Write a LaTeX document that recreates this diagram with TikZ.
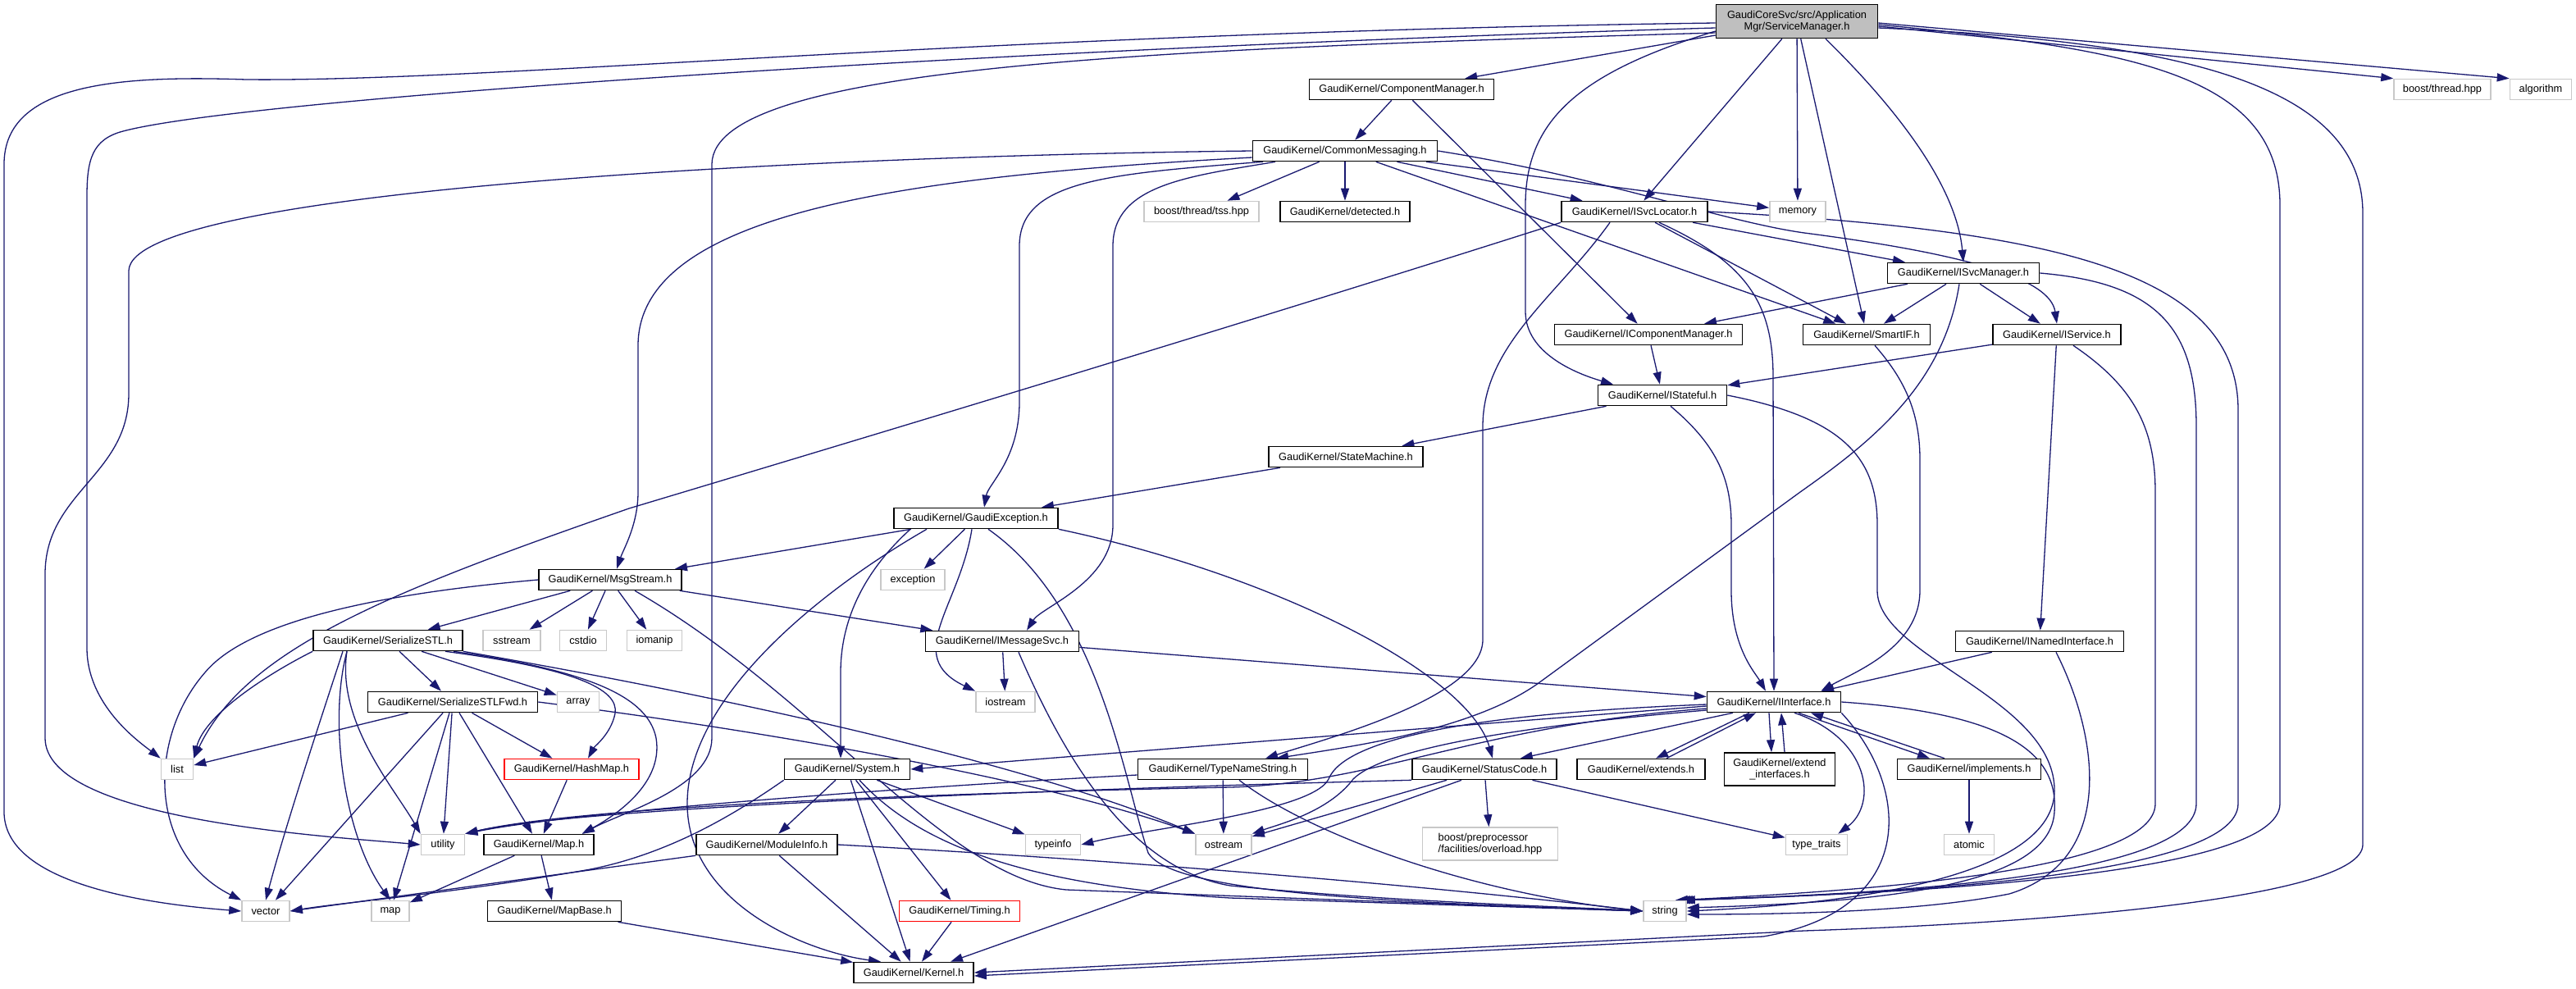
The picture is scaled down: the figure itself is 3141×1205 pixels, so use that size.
\documentclass[tikz,border=0pt]{standalone}
\usepackage{fontspec}
\setmainfont{Liberation Sans}
\usetikzlibrary{arrows.meta}
\definecolor{eb}{HTML}{191970}
\definecolor{gfill}{HTML}{BFBFBF}
\definecolor{gline}{HTML}{C8C8C8}
\pgfdeclarelayer{bg}
\pgfsetlayers{bg,main}
\tikzset{
  nd/.style={draw=black, line width=1.6pt, fill=white, inner sep=1pt, minimum height=25pt, align=center,
    font=\fontsize{12.8}{14.5}\selectfont},
  gn/.style={nd, draw=gline},
  rn/.style={nd, draw=red},
  e/.style={draw=eb, line width=1.3pt, -{Triangle[length=15pt,width=10pt]}},
}
\begin{document}
\begin{tikzpicture}[x=1pt,y=-1pt]
\useasboundingbox (0,0) rectangle (3141,1205);
% nodes
\node[nd, fill=gfill, minimum width=197pt, minimum height=41pt] (SM) at (2191,26) {GaudiCoreSvc/src/Application\\Mgr/ServiceManager.h};
\node[nd, minimum width=225pt] (CM) at (1709,109) {GaudiKernel/ComponentManager.h};
\node[gn, minimum width=118pt] (bth) at (2978,109) {boost/thread.hpp};
\node[gn, minimum width=75pt] (alg) at (3098,109) {algorithm};
\node[nd, minimum width=225pt] (CMsg) at (1640,184) {GaudiKernel/CommonMessaging.h};
\node[gn, minimum width=140pt] (tss) at (1465,258) {boost/thread/tss.hpp};
\node[nd, minimum width=158pt] (det) at (1640,258) {GaudiKernel/detected.h};
\node[nd, minimum width=178pt] (ISL) at (1993,258) {GaudiKernel/ISvcLocator.h};
\node[gn, minimum width=68pt] (mem) at (2192,258) {memory};
\node[nd, minimum width=185pt] (ISM) at (2394,333) {GaudiKernel/ISvcManager.h};
\node[nd, minimum width=229pt] (ICM) at (2010,408) {GaudiKernel/IComponentManager.h};
\node[nd, minimum width=155pt] (SIF) at (2276,408) {GaudiKernel/SmartIF.h};
\node[nd, minimum width=156pt] (ISvc) at (2508,408) {GaudiKernel/IService.h};
\node[nd, minimum width=157pt] (IST) at (2027,482) {GaudiKernel/IStateful.h};
\node[nd, minimum width=188pt] (STM) at (1641,557) {GaudiKernel/StateMachine.h};
\node[nd, minimum width=200pt] (GEx) at (1190,632) {GaudiKernel/GaudiException.h};
\node[gn, minimum width=78pt] (exc) at (1113,707) {exception};
\node[nd, minimum width=174pt] (MS) at (744,707) {GaudiKernel/MsgStream.h};
\node[nd, minimum width=187pt] (IMS) at (1222,782) {GaudiKernel/IMessageSvc.h};
\node[nd, minimum width=182pt] (SSTL) at (473,781) {GaudiKernel/SerializeSTL.h};
\node[gn, minimum width=70pt] (sstr) at (624,781) {sstream};
\node[gn, minimum width=57pt] (cstdio) at (711,781) {cstdio};
\node[gn, minimum width=67pt] (iomanip) at (798,781) {iomanip};
\node[nd, minimum width=205pt] (INI) at (2487,782) {GaudiKernel/INamedInterface.h};
\node[nd, minimum width=163pt] (II) at (2163,856) {GaudiKernel/IInterface.h};
\node[nd, minimum width=207pt] (Fwd) at (552,856) {GaudiKernel/SerializeSTLFwd.h};
\node[gn, minimum width=51pt] (array) at (705,856) {array};
\node[gn, minimum width=72pt] (iostr) at (1226,856) {iostream};
\node[rn, minimum width=164pt] (HM) at (697,938) {GaudiKernel/HashMap.h};
\node[nd, minimum width=153pt] (Sys) at (1033,938) {GaudiKernel/System.h};
\node[nd, minimum width=207pt] (TNS) at (1491,938) {GaudiKernel/TypeNameString.h};
\node[nd, minimum width=176pt] (SC) at (1810,938) {GaudiKernel/StatusCode.h};
\node[nd, minimum width=156pt] (ext) at (2001,938) {GaudiKernel/extends.h};
\node[nd, minimum width=135pt, minimum height=40pt] (exti) at (2170,938) {GaudiKernel/extend\\\_interfaces.h};
\node[nd, minimum width=175pt] (impl) at (2401,938) {GaudiKernel/implements.h};
\node[gn, minimum width=39pt] (list) at (216,938) {list};
\node[gn, minimum width=53pt] (util) at (540,1030) {utility};
\node[nd, minimum width=134pt] (Map) at (657,1030) {GaudiKernel/Map.h};
\node[nd, minimum width=172pt] (MI) at (935,1030) {GaudiKernel/ModuleInfo.h};
\node[gn, minimum width=67pt] (typeinfo) at (1284,1030) {typeinfo};
\node[gn, minimum width=68pt] (ostr) at (1492,1030) {ostream};
\node[gn, minimum width=165pt, minimum height=40pt, align=left] (bpp) at (1817,1029) {boost/preprocessor\\/facilities/overload.hpp};
\node[gn, minimum width=75pt] (tt) at (2215,1030) {type\_traits};
\node[gn, minimum width=61pt] (atomic) at (2401,1030) {atomic};
\node[gn, minimum width=58pt] (vector) at (324,1111) {vector};
\node[gn, minimum width=46pt] (map) at (476,1111) {map};
\node[nd, minimum width=163pt] (MB) at (676,1111) {GaudiKernel/MapBase.h};
\node[rn, minimum width=147pt] (Tim) at (1170,1111) {GaudiKernel/Timing.h};
\node[gn, minimum width=52pt] (str) at (2030,1111) {string};
\node[nd, minimum width=146pt] (Ker) at (1114,1186) {GaudiKernel/Kernel.h};

\begin{pgfonlayer}{bg}
\fill[white] (0,0) rectangle (3141,1205);
% ServiceManager
\draw[e] (SM) -- (CM);
\draw[e] (SM) -- (ISL);
\draw[e] (SM) -- (mem);
\draw[e] (SM) -- (SIF);
\draw[e] ([xshift=35pt]SM.south) .. controls (2300,120) and (2385,220) .. (ISM.north);
\draw[e] ([yshift=-12pt]SM.west) .. controls (1920,90) and (1860,150) .. (1860,250) -- (1860,380) .. controls (1860,430) and (1920,455) .. ([xshift=-60pt]IST.north);
\draw[e] ([yshift=-14pt]SM.west) .. controls (1400,60) and (870,80) .. (868,200) -- (868,900) .. controls (868,960) and (760,990) .. ([xshift=-15pt]Map.north east);
\draw[e] ([yshift=-8pt]SM.west) .. controls (1200,60) and (300,120) .. (150,160) .. controls (112,170) and (106,195) .. (106,240) -- (106,790) .. controls (106,860) and (170,905) .. (list.north west);
\draw[e] ([yshift=-2pt]SM.west) .. controls (1200,40) and (600,100) .. (300,97) .. controls (150,92) and (5,100) .. (5,200) -- (5,990) .. controls (5,1070) and (150,1100) .. (vector.west);
\draw[e] ([yshift=-4pt]SM.east) .. controls (2600,60) and (2780,90) .. (2780,250) -- (2780,980) .. controls (2780,1070) and (2300,1090) .. ([xshift=-5pt]str.north east);
\draw[e] ([yshift=-8pt]SM.east) .. controls (2650,50) and (2881,100) .. (2881,260) -- (2881,1030) .. controls (2881,1095) and (2500,1125) .. (2200,1135) -- (Ker.east);
\draw[e] ([yshift=-6pt]SM.east) -- (bth.north west);
\draw[e] ([yshift=-2pt]SM.east) -- (alg.north west);
% ComponentManager
\draw[e] (CM) -- (CMsg);
\draw[e] (CM) -- (ICM);
% CommonMessaging
\draw[e] (CMsg) -- (tss);
\draw[e] (CMsg) -- (det);
\draw[e] (CMsg) -- (ISL);
\draw[e] (CMsg) -- (mem);
\draw[e] (CMsg) -- (SIF);
\draw[e] (CMsg.east) .. controls (1950,215) and (2100,270) .. (2200,284) .. controls (2400,310) and (2500,340) .. (ISvc.north);
\draw[e] ([yshift=-8pt]CMsg.west) .. controls (1100,215) and (780,260) .. (778,420) -- (778,600) .. controls (778,640) and (760,670) .. ([xshift=8pt]MS.north);
\draw[e] ([xshift=-100pt]CMsg.south) .. controls (1350,212) and (1243,220) .. (1243,300) -- (1243,490) .. controls (1243,560) and (1205,590) .. ([xshift=10pt]GEx.north);
\draw[e] ([xshift=-85pt]CMsg.south) .. controls (1450,215) and (1357,225) .. (1357,300) -- (1357,640) .. controls (1357,710) and (1270,740) .. ([xshift=30pt]IMS.north);
\draw[e] (CMsg.west) .. controls (1000,190) and (160,230) .. (157,330) -- (157,480) .. controls (157,580) and (55,600) .. (55,700) -- (55,900) .. controls (55,1000) and (400,1020) .. (util.west);
% ISvcLocator
\draw[e] (ISL.south west) .. controls (1500,400) and (1000,550) .. (767,620) .. controls (480,720) and (300,790) .. (list.north east);
\draw[e] ([xshift=-30pt]ISL.south) .. controls (1900,360) and (1808,420) .. (1808,520) -- (1808,780) .. controls (1808,850) and (1620,900) .. ([xshift=52pt]TNS.north);
\draw[e] ([xshift=30pt]ISL.south) .. controls (2130,320) and (2162,370) .. (2162,460) -- (II.north);
\draw[e] (ISL) -- (SIF);
\draw[e] (ISL) -- (ISM);
\draw[e] (ISL.east) .. controls (2500,280) and (2729,330) .. (2729,500) -- (2729,980) .. controls (2729,1070) and (2300,1090) .. ([xshift=-8pt]str.north east);
% ISvcManager
\draw[e] (ISM) -- (ICM);
\draw[e] (ISM) -- (SIF);
\draw[e] (ISM) -- (ISvc);
\draw[e] ([xshift=-5pt]ISM.south) .. controls (2370,470) and (2280,540) .. (2195,600) -- (1880,830) .. controls (1800,890) and (1650,910) .. ([xshift=65pt]TNS.north);
\draw[e] (ISM.east) .. controls (2630,345) and (2678,400) .. (2678,520) -- (2678,980) .. controls (2678,1070) and (2300,1090) .. ([xshift=-11pt]str.north east);
% others upper
\draw[e] (ICM) -- (IST);
\draw[e] ([xshift=10pt]SIF.south) .. controls (2320,460) and (2341,500) .. (2341,560) -- (2341,720) .. controls (2341,790) and (2260,820) .. ([xshift=-25pt]II.north east);
\draw[e] (ISvc) -- (IST);
\draw[e] (ISvc) -- (INI);
\draw[e] ([xshift=20pt]ISvc.south) .. controls (2600,470) and (2628,520) .. (2628,600) -- (2628,980) .. controls (2628,1060) and (2300,1085) .. ([xshift=-14pt]str.north east);
\draw[e] (IST) -- (STM);
\draw[e] ([xshift=10pt]IST.south) .. controls (2090,540) and (2111,580) .. (2111,640) -- (2111,720) .. controls (2111,790) and (2140,820) .. ([xshift=-10pt]II.north);
\draw[e] (IST.east) .. controls (2250,510) and (2289,560) .. (2289,640) -- (2289,720) .. controls (2289,800) and (2500,850) .. (2505,960) .. controls (2510,1060) and (2300,1100) .. (str.east);
\draw[e] (STM) -- (GEx);
\draw[e] (INI) -- (II);
\draw[e] ([xshift=20pt]INI.south) .. controls (2560,900) and (2580,1050) .. (2450,1090) .. controls (2350,1110) and (2200,1115) .. ([yshift=-4pt]str.east);
% GaudiException
\draw[e] (GEx) -- (MS);
\draw[e] (GEx) -- (exc);
\draw[e] ([xshift=-5pt]GEx.south) .. controls (1170,740) and (1100,800) .. (iostr.north west);
\draw[e] ([xshift=-80pt]GEx.south) .. controls (1050,700) and (1025,760) .. (1025,820) -- ([xshift=-8pt]Sys.north);
\draw[e] ([xshift=-60pt]GEx.south) .. controls (1000,720) and (838,850) .. (838,980) .. controls (838,1100) and (980,1160) .. ([xshift=-40pt]Ker.north);
\draw[e] ([xshift=15pt]GEx.south) .. controls (1340,740) and (1370,950) .. (1400,1040) .. controls (1430,1090) and (1700,1100) .. (str.west);
\draw[e] (GEx.south east) .. controls (1550,700) and (1790,820) .. ([xshift=10pt]SC.north);
% MsgStream
\draw[e] (MS.west) .. controls (450,725) and (300,760) .. (250,820) .. controls (180,900) and (180,1040) .. (vector.north west);
\draw[e] (MS) -- (SSTL);
\draw[e] (MS) -- (sstr);
\draw[e] (MS) -- (cstdio);
\draw[e] (MS) -- (iomanip);
\draw[e] (MS) -- (IMS);
\draw[e] ([xshift=30pt]MS.south) .. controls (1000,850) and (1150,1070) .. (1300,1085) -- (str.west);
% IMessageSvc
\draw[e] (IMS) -- (iostr);
\draw[e] (IMS) -- (II);
\draw[e] ([xshift=20pt]IMS.south) .. controls (1300,930) and (1380,1060) .. (1500,1080) .. controls (1700,1100) and (1900,1105) .. (str.west);
% SerializeSTL
\draw[e] (SSTL) -- (Fwd);
\draw[e] (SSTL) -- (array);
\draw[e] ([xshift=70pt]SSTL.south) .. controls (700,815) and (755,840) .. (750,870) .. controls (745,895) and (725,910) .. ([xshift=20pt]HM.north);
\draw[e] ([xshift=80pt]SSTL.south) .. controls (720,818) and (790,850) .. (800,900) .. controls (810,960) and (740,1000) .. ([xshift=-15pt]Map.north east);
\draw[e] (SSTL.south east) .. controls (1000,870) and (1300,950) .. (ostr.north west);
\draw[e] (SSTL.south west) .. controls (330,820) and (250,870) .. (list.north east);
\draw[e] ([xshift=-55pt]SSTL.south) .. controls (400,850) and (350,1000) .. (vector.north);
\draw[e] ([xshift=-50pt]SSTL.south) .. controls (400,880) and (420,1020) .. (map.north);
\draw[e] ([xshift=-50pt]SSTL.south) .. controls (410,880) and (480,960) .. (util.north west);
% SerializeSTLFwd
\draw[e] (Fwd) -- (list);
\draw[e] (Fwd) -- (vector);
\draw[e] (Fwd) -- (map);
\draw[e] (Fwd) -- (util);
\draw[e] (Fwd) -- (Map);
\draw[e] (Fwd) -- (HM);
\draw[e] (Fwd.east) .. controls (1000,900) and (1300,960) .. (ostr.north west);
\draw[e] (HM) -- (Map);
% System
\draw[e] (Sys.south west) .. controls (900,990) and (820,1040) .. (720,1060) .. controls (550,1090) and (420,1100) .. (vector.east);
\draw[e] (Sys) -- (MI);
\draw[e] (Sys) -- (Ker);
\draw[e] (Sys) -- (Tim);
\draw[e] (Sys) -- (typeinfo);
\draw[e] ([xshift=15pt]Sys.south) .. controls (1120,1030) and (1250,1080) .. (1500,1095) -- (str.west);
% TypeNameString
\draw[e] ([yshift=-7pt]TNS.west) .. controls (1100,960) and (700,990) .. (util.north east);
\draw[e] (TNS) -- (ostr);
\draw[e] ([xshift=20pt]TNS.south) .. controls (1600,1020) and (1800,1090) .. (str.west);
% StatusCode
\draw[e] (SC.south west) .. controls (1300,962) and (700,985) .. (util.north east);
\draw[e] (SC) -- (ostr);
\draw[e] ([xshift=-28pt]SC.south) -- ([xshift=45pt]Ker.north);
\draw[e] (SC) -- (bpp);
\draw[e] (SC) -- (tt);
% IInterface
\draw[e] ([yshift=-5pt]II.west) -- (Sys.east);
\draw[e] ([yshift=-8pt]II.west) .. controls (1800,885) and (1680,955) .. (1500,960) .. controls (1100,968) and (700,985) .. (util.north east);
\draw[e] ([yshift=-3pt]II.west) .. controls (1800,870) and (1640,900) .. (1620,950) .. controls (1600,990) and (1400,1010) .. (typeinfo.east);
\draw[e] ([yshift=-10pt]II.west) .. controls (1800,890) and (1680,920) .. (1650,950) .. controls (1620,990) and (1560,1005) .. (ostr.north east);
\draw[e] ([xshift=-50pt]II.south) -- ([xshift=-45pt]SC.north east);
\draw[e] ([xshift=-30pt]II.south) -- ([xshift=18pt]ext.north);
\draw[e] ([xshift=31pt]ext.north) -- ([xshift=-22pt]II.south);
\draw[e] ([xshift=-6pt]II.south) -- ([xshift=-10pt]exti.north);
\draw[e] ([xshift=6pt]exti.north) -- ([xshift=9pt]II.south);
\draw[e] ([xshift=30pt]II.south) -- ([xshift=-48pt]impl.north);
\draw[e] ([xshift=-30pt]impl.north) -- ([xshift=45pt]II.south);
\draw[e] ([xshift=25pt]II.south) .. controls (2280,900) and (2290,980) .. ([xshift=-12pt]tt.north east);
\draw[e] (II.east) .. controls (2450,870) and (2510,920) .. (2505,990) .. controls (2500,1080) and (2300,1100) .. ([yshift=4pt]str.east);
\draw[e] (II.south east) .. controls (2330,960) and (2340,1110) .. (2150,1142) -- ([yshift=-4pt]Ker.east);
\draw[e] (impl) -- (atomic);
% lower
\draw[e] (Map) -- (map);
\draw[e] (Map) -- (MB);
\draw[e] (MB) -- (Ker);
\draw[e] (MI.south west) -- (vector.east);
\draw[e] (MI) -- (Ker);
\draw[e] (MI.east) .. controls (1300,1045) and (1700,1075) .. (str.west);
\draw[e] (Tim) -- (Ker);
\end{pgfonlayer}
\end{tikzpicture}
\end{document}
